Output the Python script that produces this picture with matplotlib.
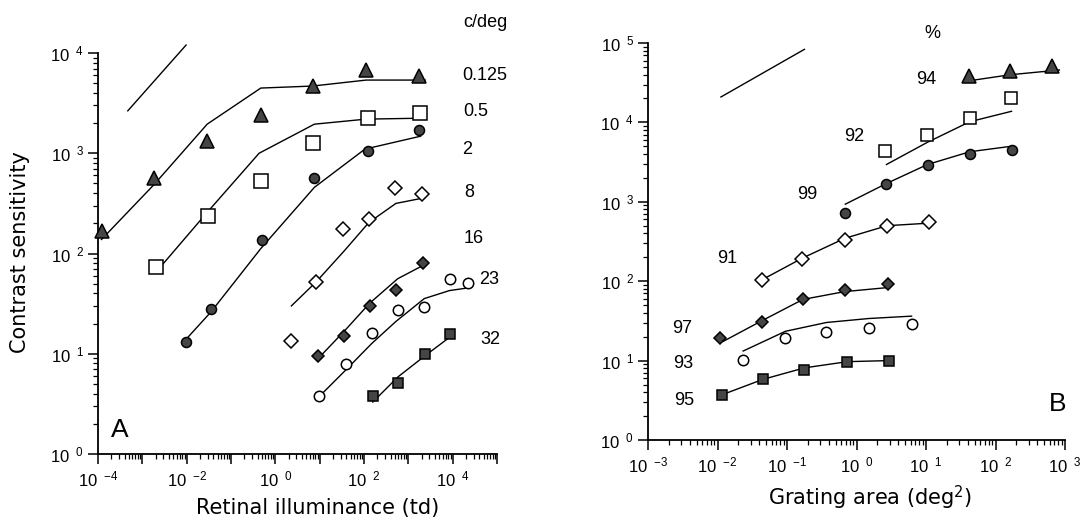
import numpy as np
import matplotlib
matplotlib.use('Agg')
import matplotlib.pyplot as plt
from matplotlib.ticker import LogLocator, NullFormatter, FuncFormatter

plt.rcParams['font.family'] = ['Liberation Sans', 'DejaVu Sans']
plt.rcParams['mathtext.fontset'] = 'custom'
plt.rcParams['mathtext.rm'] = 'Liberation Sans'
plt.rcParams['mathtext.it'] = 'Liberation Sans'

# ---------------- Panel A data: retinal illuminance (td) vs contrast sensitivity
a_labels = ['0.125', '0.5', '2', '8', '16', '23', '32']

a_x_0125 = [1.2e-4, 1.86e-3, 0.029, 0.47, 6.9, 112, 1780]
a_y_0125 = [166, 560, 1320, 2400, 4700, 6800, 5900]
a_fx_0125 = [1.2e-4, 1.86e-3, 0.029, 0.47, 6.9, 112, 2400]
a_fy_0125 = [138, 490, 1950, 4470, 4680, 5370, 5370]

a_x_05 = [2.0e-3, 0.030, 0.47, 7.2, 120, 1860]
a_y_05 = [73, 236, 525, 1260, 2240, 2500]
a_fx_05 = [2.6e-3, 0.029, 0.43, 7.6, 112, 2400]
a_fy_05 = [74, 257, 1000, 1950, 2190, 2240]

a_x_2 = [0.0095, 0.035, 0.51, 7.4, 120, 1780]
a_y_2 = [13, 28, 135, 570, 1050, 1700]
a_fx_2 = [0.0105, 0.035, 0.47, 7.6, 105, 1900]
a_fy_2 = [14.5, 26, 112, 457, 1100, 1480]

a_x_8 = [2.3, 8.3, 33, 129, 500, 2000]
a_y_8 = [13.5, 52, 174, 219, 447, 390]
a_fx_8 = [2.3, 8.3, 35, 129, 525, 2000]
a_fy_8 = [30, 52, 105, 204, 316, 355]

a_x_16 = [9.1, 35, 135, 537, 2140]
a_y_16 = [9.5, 15, 30, 43, 81]
a_fx_16 = [10, 35, 135, 575, 2140]
a_fy_16 = [9.3, 16.6, 32, 56, 76]

a_x_23 = [9.5, 39, 148, 575, 2290, 8500, 21900]
a_y_23 = [3.8, 7.9, 16, 27.5, 29.6, 56, 51]
a_fx_23 = [12, 39, 148, 525, 2290, 8500, 25000]
a_fy_23 = [4.1, 6.9, 12.6, 21, 35.5, 42.7, 45.7]

a_x_32 = [158, 590, 2340, 8900]
a_y_32 = [3.8, 5.1, 10, 15.8]
a_fx_32 = [158, 590, 2340, 8900]
a_fy_32 = [3.3, 5.9, 9.5, 14.8]

a_slope_x = [4.7e-4, 9.7e-3]
a_slope_y = [2650, 12000]

# ---------------- Panel B data: grating area (deg^2) vs contrast sensitivity
b_labels = ['94', '92', '99', '91', '97', '93', '95']

b_x_94 = [42, 162, 646]
b_y_94 = [38000, 45000, 51600]
b_fx_94 = [51, 162, 830]
b_fy_94 = [34300, 39800, 45700]

b_x_92 = [2.6, 10.5, 42.7, 166]
b_y_92 = [4360, 7040, 11200, 20000]
b_fx_92 = [2.7, 10.5, 42.7, 170]
b_fy_92 = [2950, 5620, 10200, 13800]

b_x_99 = [0.68, 2.7, 10.7, 42.7, 174]
b_y_99 = [725, 1670, 2870, 4050, 4500]
b_fx_99 = [0.69, 2.7, 10.5, 42.7, 170]
b_fy_99 = [933, 1700, 2950, 4270, 5010]

b_x_91 = [0.043, 0.166, 0.68, 2.75, 11.2]
b_y_91 = [105, 188, 335, 500, 550]
b_fx_91 = [0.049, 0.166, 0.68, 2.75, 10.5]
b_fy_91 = [110, 195, 347, 500, 537]

b_x_97 = [0.011, 0.043, 0.17, 0.68, 2.8]
b_y_97 = [19, 31, 60, 78, 93]
b_fx_97 = [0.012, 0.043, 0.17, 0.68, 2.75]
b_fy_97 = [17.4, 31.6, 59, 74, 83]

b_x_93 = [0.0234, 0.095, 0.37, 1.51, 6.2]
b_y_93 = [10.2, 19, 23, 26, 29]
b_fx_93 = [0.0234, 0.095, 0.37, 1.51, 6.2]
b_fy_93 = [13.2, 23.4, 30.2, 33.9, 36.3]

b_x_95 = [0.0115, 0.045, 0.178, 0.74, 2.95]
b_y_95 = [3.7, 5.8, 7.7, 9.7, 9.8]
b_fx_95 = [0.0115, 0.045, 0.178, 0.74, 2.95]
b_fy_95 = [3.7, 5.8, 8.1, 9.7, 10.0]

b_slope_x = [0.0112, 0.178]
b_slope_y = [20900, 83200]

DARK = '#454545'

def mstyle(marker, filled, ms):
    return dict(marker=marker, ms=ms, mfc=DARK if filled else 'white',
                mec='black', mew=1.1, ls='none', zorder=3, clip_on=False)

fig = plt.figure(figsize=(10.84, 5.26), dpi=100)
axA = fig.add_axes([98/1084, 1-454/526, 399/1084, 401/526])
axB = fig.add_axes([648/1084, 1-440/526, 417/1084, 397/526])

seriesA = [
    (a_x_0125, a_y_0125, a_fx_0125, a_fy_0125, '^', True, 10.5),
    (a_x_05, a_y_05, a_fx_05, a_fy_05, 's', False, 9.5),
    (a_x_2, a_y_2, a_fx_2, a_fy_2, 'o', True, 7.2),
    (a_x_8, a_y_8, a_fx_8, a_fy_8, 'D', False, 7.0),
    (a_x_16, a_y_16, a_fx_16, a_fy_16, 'D', True, 6.5),
    (a_x_23, a_y_23, a_fx_23, a_fy_23, 'o', False, 7.5),
    (a_x_32, a_y_32, a_fx_32, a_fy_32, 's', True, 7.5),
]
seriesB = [
    (b_x_94, b_y_94, b_fx_94, b_fy_94, '^', True, 10.0),
    (b_x_92, b_y_92, b_fx_92, b_fy_92, 's', False, 8.8),
    (b_x_99, b_y_99, b_fx_99, b_fy_99, 'o', True, 7.2),
    (b_x_91, b_y_91, b_fx_91, b_fy_91, 'D', False, 7.2),
    (b_x_97, b_y_97, b_fx_97, b_fy_97, 'D', True, 6.5),
    (b_x_93, b_y_93, b_fx_93, b_fy_93, 'o', False, 7.5),
    (b_x_95, b_y_95, b_fx_95, b_fy_95, 's', True, 7.0),
]

for ax, series, sx, sy in [(axA, seriesA, a_slope_x, a_slope_y),
                           (axB, seriesB, b_slope_x, b_slope_y)]:
    for x, y, fx, fy, mk, filled, ms in series:
        ax.plot(fx, fy, color='black', lw=1.0, zorder=2, clip_on=False)
        ax.plot(x, y, **mstyle(mk, filled, ms))
    ax.plot(sx, sy, color='black', lw=1.0, clip_on=False)

def log_label(allowed):
    def f(v, pos):
        e = int(round(np.log10(v)))
        if e not in allowed:
            return ''
        s = str(e) if e >= 0 else '-' + str(-e)
        return r'$\mathregular{10\ \,{}^{%s}}$' % s
    return f

axA.set_xscale('log'); axA.set_yscale('log')
axB.set_xscale('log'); axB.set_yscale('log')
axA.set_xlim(1e-4, 1e5); axA.set_ylim(1, 1e4)
axB.set_xlim(1e-3, 1e3); axB.set_ylim(1, 1e5)

for ax, xallowed, yallowed in [(axA, [-4, -2, 0, 2, 4], [0, 1, 2, 3, 4]),
                               (axB, [-3, -2, -1, 0, 1, 2, 3], [0, 1, 2, 3, 4, 5])]:
    for axis, allowed in [(ax.xaxis, xallowed), (ax.yaxis, yallowed)]:
        axis.set_major_locator(LogLocator(base=10, numticks=20))
        axis.set_minor_locator(LogLocator(base=10, subs=np.arange(2, 10), numticks=20))
        axis.set_minor_formatter(NullFormatter())
        axis.set_major_formatter(FuncFormatter(log_label(allowed)))
    for side in ['top', 'right']:
        ax.spines[side].set_visible(False)
    for side in ['left', 'bottom']:
        ax.spines[side].set_linewidth(1.3)
    ax.tick_params(axis='both', which='major', direction='out', length=7, width=1.1,
                   labelsize=12, pad=3)
    ax.tick_params(axis='both', which='minor', direction='out', length=3.5, width=0.9)
    ax.tick_params(axis='x', which='major', pad=4)

# Panel annotation labels
txt = dict(ha='center', va='center', fontsize=13)
axA.text(0.972, 1.077, 'c/deg', transform=axA.transAxes, **txt)
for lab, fx, fy in zip(a_labels, [0.970, 0.946, 0.924, 0.931, 0.942, 0.981, 0.983],
                       [0.943, 0.854, 0.759, 0.652, 0.538, 0.436, 0.286]):
    axA.text(fx, fy, lab, transform=axA.transAxes, **txt)
axA.text(0.055, 0.06, 'A', transform=axA.transAxes, ha='center', va='center', fontsize=19)

axB.text(0.683, 1.025, '%', transform=axB.transAxes, **txt)
for lab, fx, fy in zip(b_labels, [0.666, 0.494, 0.382, 0.190, 0.082, 0.085, 0.086],
                       [0.909, 0.765, 0.618, 0.457, 0.281, 0.193, 0.100]):
    axB.text(fx, fy, lab, transform=axB.transAxes, **txt)
axB.text(0.983, 0.091, 'B', transform=axB.transAxes, ha='center', va='center', fontsize=19)

lab_font = dict(family=['DejaVu Sans'], fontsize=15)
fig.text(20/1084, 1-252/526, 'Contrast sensitivity', rotation=90, ha='center', va='center',
         **lab_font)
fig.text(318/1084, 1-508/526, 'Retinal illuminance (td)', ha='center', va='center', **lab_font)
fig.text(870/1084, 1-498/526, r'Grating area (deg$^{\mathregular{2}}$)', ha='center',
         va='center', **lab_font)

fig.savefig('out.png', dpi=100)
